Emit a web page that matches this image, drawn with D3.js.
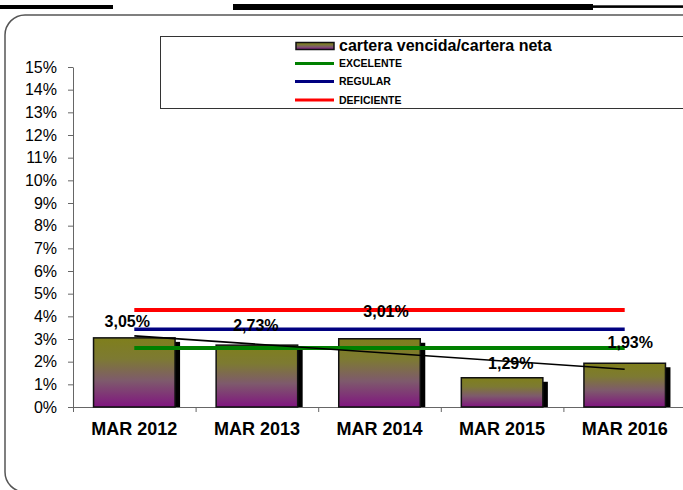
<!DOCTYPE html>
<html><head><meta charset="utf-8">
<script src="https://cdn.jsdelivr.net/npm/d3@7/dist/d3.min.js"></script>
<style>
body{margin:0;background:#fff}
svg{display:block;font-family:"Liberation Sans",Arial,sans-serif}
</style>
</head><body>
<svg id="chart" width="683" height="490"></svg>
<script>
// ---------------- data ----------------
const categories = ["MAR 2012", "MAR 2013", "MAR 2014", "MAR 2015", "MAR 2016"];
const ratioValues = [3.05, 2.73, 3.01, 1.29, 1.93];
const ratioLabels = ["3,05%", "2,73%", "3,01%", "1,29%", "1,93%"];
const seriesName = "cartera vencida/cartera neta";
const thresholdNames = ["EXCELENTE", "REGULAR", "DEFICIENTE"];
const thresholdValues = [2.6, 3.43, 4.28];
const yTickValues = [0, 1, 2, 3, 4, 5, 6, 7, 8, 9, 10, 11, 12, 13, 14, 15];

// ---------------- layout ----------------
const thresholdColors = ["#008000", "#000080", "#ff0000"];
const thresholdWidths = [4, 3.5, 4];
const labelNudge = [[-7, -16], [-1, -20], [6.5, -27], [8.7, -14.5], [5.6, -20.5]];
const plot = {left: 73, right: 686, top: 67, bottom: 407};

const svg = d3.select("#chart");

// decorative header lines
svg.append("rect").attr("x", 0).attr("y", 5).attr("width", 113).attr("height", 4).attr("fill", "#000");
svg.append("rect").attr("x", 233).attr("y", 4).attr("width", 360).attr("height", 6).attr("fill", "#000");
svg.append("rect").attr("x", 593).attr("y", 5.3).attr("width", 90).attr("height", 2.6).attr("fill", "#000");

// rounded chart border
svg.append("rect").attr("x", 5).attr("y", 15).attr("width", 740).attr("height", 477)
  .attr("rx", 20).attr("ry", 20).attr("fill", "none").attr("stroke", "#555").attr("stroke-width", 1.5);

// gradient
const defs = svg.append("defs");
const grad = defs.append("linearGradient").attr("id", "barGrad")
  .attr("x1", 0).attr("y1", 0).attr("x2", 0).attr("y2", 1);
grad.append("stop").attr("offset", "0%").attr("stop-color", "#7f7f1c");
grad.append("stop").attr("offset", "30%").attr("stop-color", "#7d7a32");
grad.append("stop").attr("offset", "62%").attr("stop-color", "#7e5a6c");
grad.append("stop").attr("offset", "100%").attr("stop-color", "#80157f");

// scales
const x = d3.scaleBand().domain(categories).range([plot.left, plot.right]).paddingInner(0.335).paddingOuter(0.1675);
const xEdge = d3.scaleLinear().domain([0, categories.length]).range([plot.left, plot.right]);
const y = d3.scaleLinear().domain([0, 15]).range([plot.bottom, plot.top]);
const cx = c => x(c) + x.bandwidth() / 2;

// y axis
const yAxis = svg.append("g").attr("transform", `translate(${plot.left},0)`)
  .call(d3.axisLeft(y).tickValues(yTickValues).tickFormat(d => d + "%").tickSize(5).tickSizeOuter(0).tickPadding(11));
yAxis.select(".domain").attr("stroke", "#666");
yAxis.selectAll(".tick line").attr("stroke", "#666");
yAxis.selectAll(".tick text").attr("font-size", 16).attr("fill", "#000")
  .attr("font-family", "Liberation Sans, Arial, sans-serif");

// x axis: edge ticks
const xAxisEdges = svg.append("g").attr("transform", `translate(0,${plot.bottom})`)
  .call(d3.axisBottom(xEdge).tickValues(d3.range(0, categories.length + 1)).tickFormat("").tickSize(5).tickSizeOuter(0));
xAxisEdges.select(".domain").attr("stroke", "#666");
xAxisEdges.selectAll(".tick line").attr("stroke", "#666");

// bars: shadow + body
const bars = svg.append("g");
bars.selectAll("rect.shadow").data(ratioValues).join("rect").attr("class", "shadow")
  .attr("x", (d, i) => x(categories[i]) + 5)
  .attr("y", d => y(d) + 4)
  .attr("width", x.bandwidth())
  .attr("height", d => y(0) - y(d) - 4)
  .attr("fill", "#000");
bars.selectAll("rect.bar").data(ratioValues).join("rect").attr("class", "bar")
  .attr("x", (d, i) => x(categories[i]))
  .attr("y", d => y(d))
  .attr("width", x.bandwidth())
  .attr("height", d => y(0) - y(d))
  .attr("fill", "url(#barGrad)")
  .attr("stroke", "#111").attr("stroke-width", 1.5);

// x axis labels
const xAxis = svg.append("g").attr("transform", `translate(0,${plot.bottom})`)
  .call(d3.axisBottom(x).tickSize(0).tickPadding(15));
xAxis.select(".domain").remove();
xAxis.selectAll(".tick text").attr("font-size", 18).attr("font-weight", "bold").attr("fill", "#000")
  .attr("font-family", "Liberation Sans, Arial, sans-serif");

// threshold lines
const first = categories[0], last = categories[categories.length - 1];
svg.append("g").selectAll("line").data(thresholdValues).join("line")
  .attr("x1", cx(first)).attr("x2", cx(last))
  .attr("y1", d => y(d)).attr("y2", d => y(d))
  .attr("stroke", (d, i) => thresholdColors[i])
  .attr("stroke-width", (d, i) => thresholdWidths[i]);

// linear trend line (least squares on the bar values)
const n = ratioValues.length;
const idx = d3.range(n);
const mx = d3.mean(idx), my = d3.mean(ratioValues);
const slope = d3.sum(idx, i => (i - mx) * (ratioValues[i] - my)) / d3.sum(idx, i => (i - mx) * (i - mx));
const icpt = my - slope * mx;
svg.append("line")
  .attr("x1", cx(first)).attr("y1", y(icpt))
  .attr("x2", cx(last)).attr("y2", y(icpt + slope * (n - 1)))
  .attr("stroke", "#000").attr("stroke-width", 1.6);

// data labels
svg.append("g").selectAll("text").data(ratioValues).join("text")
  .attr("x", (d, i) => cx(categories[i]) + labelNudge[i][0])
  .attr("y", (d, i) => y(d) + labelNudge[i][1])
  .attr("dy", "0.35em")
  .attr("text-anchor", "middle")
  .attr("font-size", 16).attr("font-weight", "bold").attr("fill", "#000")
  .text((d, i) => ratioLabels[i]);

// legend
const lg = svg.append("g");
lg.append("rect").attr("x", 160.5).attr("y", 36.5).attr("width", 600).attr("height", 72)
  .attr("fill", "#fff").attr("stroke", "#333").attr("stroke-width", 1);
lg.append("rect").attr("x", 296).attr("y", 42.5).attr("width", 38).attr("height", 7)
  .attr("fill", "url(#barGrad)").attr("stroke", "#111").attr("stroke-width", 1.5);
lg.append("text").attr("x", 339).attr("y", 51).attr("font-size", 16).attr("font-weight", "bold")
  .attr("fill", "#000").text(seriesName);
const legendRowY = [63.5, 81.5, 100];
thresholdNames.forEach((name, i) => {
  lg.append("line").attr("x1", 295).attr("x2", 334).attr("y1", legendRowY[i]).attr("y2", legendRowY[i])
    .attr("stroke", thresholdColors[i]).attr("stroke-width", 3);
  lg.append("text").attr("x", 339).attr("y", legendRowY[i]).attr("dy", "0.36em")
    .attr("font-size", 10.5).attr("font-weight", "bold").attr("fill", "#000").text(name);
});
</script>
</body></html>
